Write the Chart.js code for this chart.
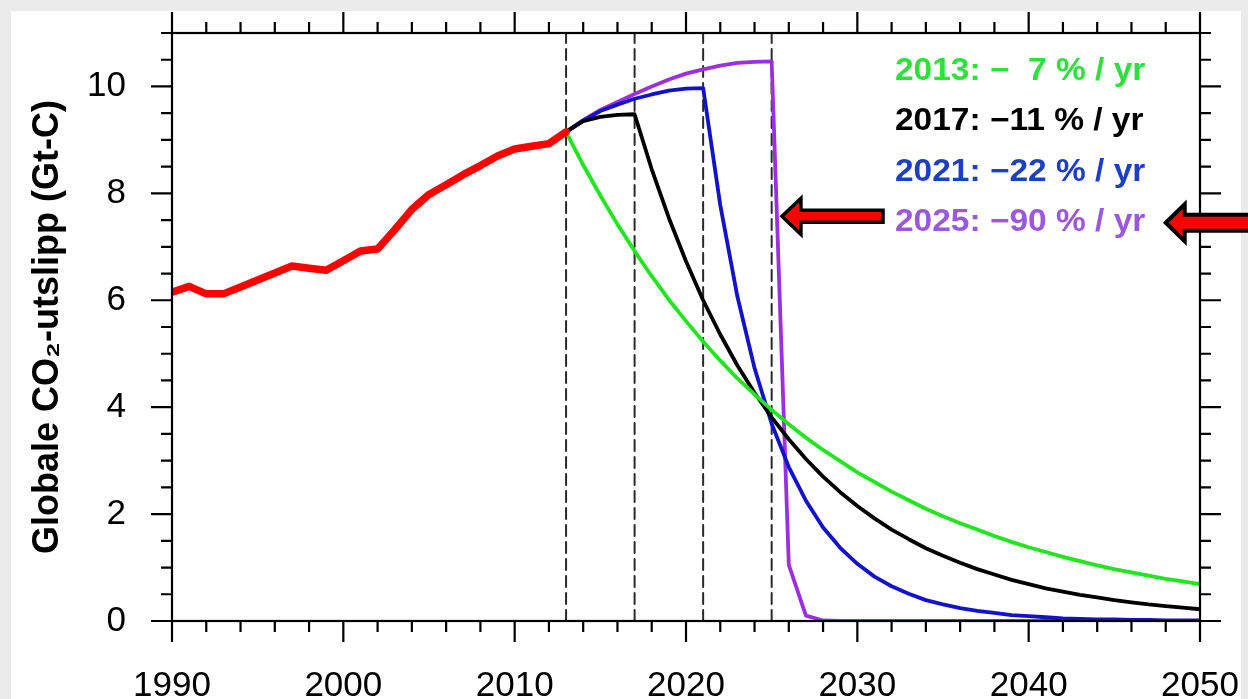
<!DOCTYPE html>
<html>
<head>
<meta charset="utf-8">
<script src="https://cdn.jsdelivr.net/npm/chart.js@4.4.1/dist/chart.umd.min.js"></script>
<style>
  html, body { margin: 0; padding: 0; background: #ebebeb; }
  #wrap { width: 1248px; height: 699px; position: relative; }
</style>
</head>
<body>
<div id="wrap"><canvas id="grafica"></canvas></div>
<script>
// historiske utslipp, Gt-C
const histYears = [1990, 1991, 1992, 1993, 1994, 1995, 1996, 1997, 1998, 1999, 2000, 2001,
                   2002, 2003, 2004, 2005, 2006, 2007, 2008, 2009, 2010, 2011, 2012, 2013];
const histValues = [6.15, 6.26, 6.12, 6.12, 6.25, 6.38, 6.51, 6.64, 6.60, 6.56, 6.74, 6.92,
                    6.96, 7.32, 7.70, 7.98, 8.16, 8.35, 8.52, 8.70, 8.83, 8.88, 8.93, 9.15];

// scenarier 2013-2050
const scenYears = [2013, 2014, 2015, 2016, 2017, 2018, 2019, 2020, 2021, 2022, 2023, 2024, 2025,
                   2026, 2027, 2028, 2029, 2030, 2031, 2032, 2033, 2034, 2035, 2036, 2037, 2038,
                   2039, 2040, 2041, 2042, 2043, 2044, 2045, 2046, 2047, 2048, 2049, 2050];
const start2013 = [9.15, 8.53, 7.96, 7.42, 6.92, 6.45, 6.01, 5.61, 5.23, 4.87, 4.54, 4.24, 3.95,
                   3.68, 3.43, 3.20, 2.99, 2.78, 2.60, 2.42, 2.26, 2.10, 1.96, 1.83, 1.71, 1.59,
                   1.48, 1.38, 1.29, 1.20, 1.12, 1.04, 0.97, 0.91, 0.85, 0.79, 0.74, 0.69];
const start2017 = [9.15, 9.35, 9.43, 9.47, 9.48, 8.45, 7.54, 6.73, 6.00, 5.36, 4.78, 4.27, 3.81,
                   3.40, 3.03, 2.70, 2.41, 2.15, 1.92, 1.71, 1.53, 1.36, 1.22, 1.09, 0.97, 0.87,
                   0.77, 0.69, 0.61, 0.55, 0.49, 0.44, 0.39, 0.35, 0.31, 0.28, 0.25, 0.22];
const start2021 = [9.15, 9.36, 9.54, 9.66, 9.77, 9.85, 9.92, 9.96, 9.97, 7.78, 6.07, 4.73, 3.69,
                   2.88, 2.25, 1.75, 1.37, 1.07, 0.83, 0.65, 0.51, 0.39, 0.31, 0.24, 0.19, 0.15,
                   0.11, 0.09, 0.07, 0.05, 0.04, 0.03, 0.03, 0.02, 0.02, 0.01, 0.01, 0.01];
const start2025 = [9.15, 9.37, 9.56, 9.71, 9.86, 10.00, 10.13, 10.24, 10.32, 10.39, 10.44, 10.46, 10.47,
                   1.05, 0.10, 0.01, 0, 0, 0, 0, 0, 0, 0, 0, 0, 0,
                   0, 0, 0, 0, 0, 0, 0, 0, 0, 0, 0, 0];

const startYears = [2013, 2017, 2021, 2025];
const rateLabels = ['2013: \u2212  7 % / yr', '2017: \u221211 % / yr', '2021: \u221222 % / yr', '2025: \u221290 % / yr'];
const xTicks = [1990, 2000, 2010, 2020, 2030, 2040, 2050];
const yTicks = [0, 2, 4, 6, 8, 10];

const lineColors = ['#22e41f', '#000000', '#1212c8', '#9b30e0'];
const textColors = ['#2fe03c', '#000000', '#1c3fc6', '#9a58e0'];

const pts = (xs, ys) => xs.map((v, i) => ({x: v, y: ys[i]}));

const datasets = [
    {data: pts(histYears, histValues), borderColor: '#ff0000', borderWidth: 7.5},
];
[start2013, start2017, start2021, start2025].forEach((serie, i) => {
    datasets.push({data: pts(scenYears, serie), borderColor: lineColors[i], borderWidth: 3.8});
});
startYears.forEach(aar => {
    datasets.push({
        data: [{x: aar, y: 0}, {x: aar, y: 11}],
        borderColor: '#2a2a2a', borderWidth: 2, borderDash: [11, 6]
    });
});

const nullPadding = s => { s.paddingTop = 0; s.paddingBottom = 0; s.paddingLeft = 0; s.paddingRight = 0; };

// ramme, tikker, piler og tekst
const pynt = {
    id: 'pynt',
    beforeDraw(chart) {
        const {ctx} = chart;
        ctx.save();
        ctx.fillStyle = '#ebebeb';
        ctx.fillRect(0, 0, chart.width, chart.height);
        ctx.fillStyle = '#ffffff';
        ctx.fillRect(11, 11, 1230, 688);
        ctx.restore();
    },
    afterDatasetsDraw(chart) {
        const {ctx, chartArea: a, scales: {x, y}} = chart;
        ctx.save();
        ctx.strokeStyle = '#000';
        ctx.lineWidth = 2.2;
        ctx.strokeRect(a.left, a.top, a.right - a.left, a.bottom - a.top);
        ctx.beginPath();
        for (let v = 1990; v <= 2050; v += 2) {
            const px = x.getPixelForValue(v);
            const len = (v % 10 === 0) ? 21 : 11;
            ctx.moveTo(px, a.bottom); ctx.lineTo(px, a.bottom + len);
            ctx.moveTo(px, a.top); ctx.lineTo(px, a.top - len);
        }
        for (let v = 0; v <= 11; v += 0.5) {
            const py = y.getPixelForValue(v);
            const len = (v % 2 === 0) ? 21 : 11;
            ctx.moveTo(a.left, py); ctx.lineTo(a.left - len, py);
            ctx.moveTo(a.right, py); ctx.lineTo(a.right + len, py);
        }
        ctx.stroke();

        // piler
        const pil = (tipX, tipY, tailX, shaft, head, headLen, lw) => {
            ctx.beginPath();
            ctx.moveTo(tipX, tipY);
            ctx.lineTo(tipX + headLen, tipY - head / 2);
            ctx.lineTo(tipX + headLen, tipY - shaft / 2);
            ctx.lineTo(tailX, tipY - shaft / 2);
            ctx.lineTo(tailX, tipY + shaft / 2);
            ctx.lineTo(tipX + headLen, tipY + shaft / 2);
            ctx.lineTo(tipX + headLen, tipY + head / 2);
            ctx.closePath();
            ctx.fillStyle = '#ff0000';
            ctx.fill();
            ctx.lineJoin = 'miter';
            ctx.lineWidth = lw;
            ctx.strokeStyle = '#000';
            ctx.stroke();
        };
        pil(x.getPixelForValue(2025.6), y.getPixelForValue(7.57), x.getPixelForValue(2031.5), 12, 36, 19, 3.5);
        pil(x.getPixelForValue(2048.0), y.getPixelForValue(7.45), chart.width + 10, 16, 37, 19, 4);

        // rater (teksten er litt bredere i originalen)
        ctx.font = 'bold 31px "Liberation Sans", Arial, sans-serif';
        ctx.textBaseline = 'alphabetic';
        ctx.textAlign = 'left';
        rateLabels.forEach((t, i) => {
            ctx.save();
            ctx.translate(a.left + 723, a.top + 47 + i * 50.3);
            ctx.scale(1.08, 1);
            ctx.fillStyle = textColors[i];
            ctx.fillText(t, 0, 0);
            ctx.restore();
        });
        ctx.restore();
    }
};

new Chart(document.getElementById('grafica'), {
    type: 'line',
    data: {datasets: datasets},
    options: {
        responsive: true,
        maintainAspectRatio: false,
        animation: false,
        layout: {padding: {top: 33, right: 48, left: 0, bottom: 0}},
        elements: {point: {radius: 0}, line: {tension: 0, borderCapStyle: 'round', borderJoinStyle: 'round'}},
        plugins: {legend: {display: false}, tooltip: {enabled: false}},
        scales: {
            x: {
                type: 'linear', min: 1990, max: 2050,
                afterFit: s => { s.height = 78; nullPadding(s); },
                afterBuildTicks: s => { s.ticks = xTicks.map(v => ({value: v})); },
                grid: {display: false, drawTicks: false},
                border: {display: false},
                ticks: {
                    padding: 44, color: '#000',
                    font: {family: '"Liberation Sans", Arial, sans-serif', size: 35},
                    maxRotation: 0, autoSkip: false,
                    callback: v => String(v)
                }
            },
            y: {
                type: 'linear', min: 0, max: 11,
                afterFit: s => { s.width = 172; nullPadding(s); },
                afterBuildTicks: s => { s.ticks = yTicks.map(v => ({value: v})); },
                grid: {display: false, drawTicks: false},
                border: {display: false},
                ticks: {
                    padding: 46, color: '#000',
                    font: {family: '"Liberation Sans", Arial, sans-serif', size: 35},
                    callback: v => String(v)
                },
                title: {
                    display: true,
                    text: 'Globale CO\u2082-utslipp (Gt-C)',
                    color: '#000',
                    padding: {top: 26, bottom: 0},
                    font: {family: '"Liberation Sans", Arial, sans-serif', size: 36, weight: 'bold'}
                }
            }
        }
    },
    plugins: [pynt]
});
</script>
</body>
</html>
